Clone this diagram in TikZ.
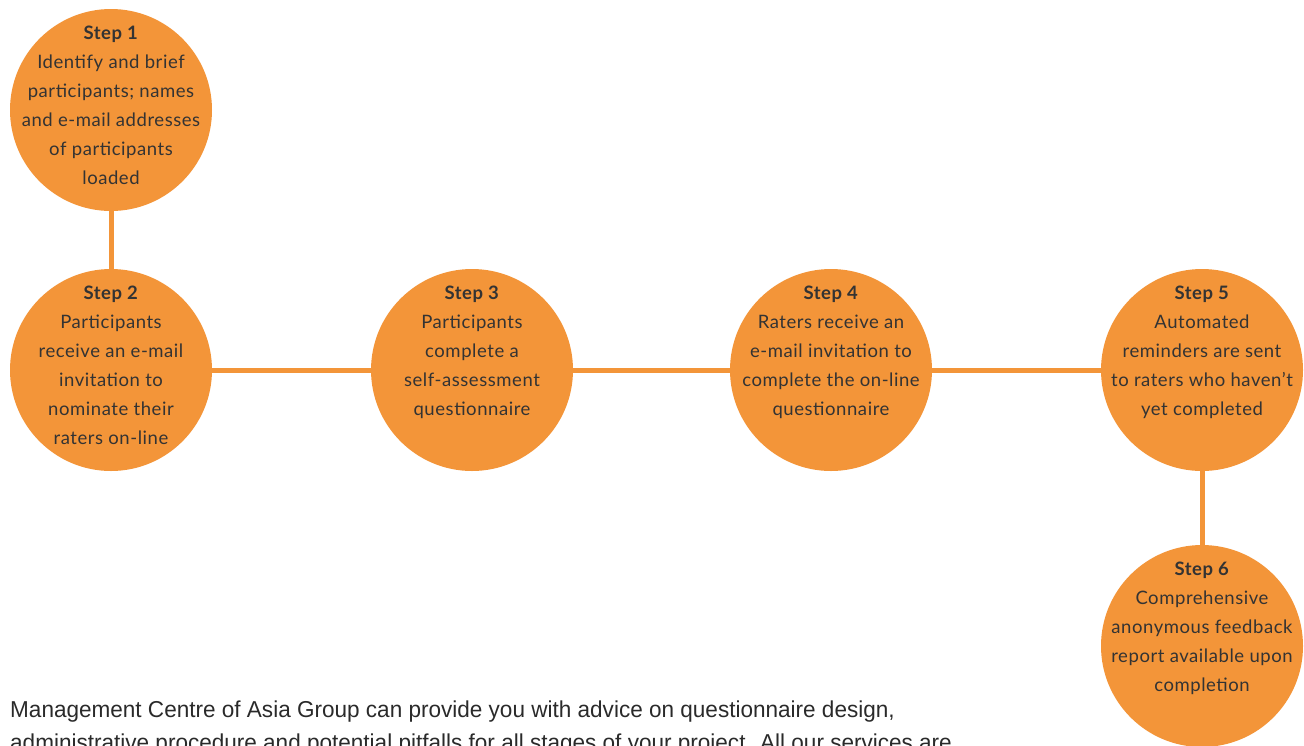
\documentclass[tikz,border=0pt]{standalone}
\usepackage{fontspec}
\setmainfont{Lato}
\newfontfamily\stepfont[LetterSpace=3]{Lato}
\newfontfamily\narrowfont[FakeStretch=0.98]{Liberation Sans}
\definecolor{stepor}{HTML}{F39539}
\definecolor{steptx}{HTML}{333333}
\definecolor{bodytx}{HTML}{2A2A2A}
\tikzset{
  stepcirc/.style={circle, fill=stepor, draw=none, minimum size=202pt, inner sep=0pt},
  steptext/.style={anchor=north, inner sep=0pt, align=center, text=steptx,
    font=\stepfont\fontsize{18.5}{29}\selectfont},
  link/.style={draw=stepor, line width=5pt},
  bodytext/.style={anchor=base west, inner sep=0pt, text=bodytx,
    font=\narrowfont\fontsize{23}{33}\selectfont},
}
\newcommand{\stephead}[1]{\textbf{Step #1}}
\begin{document}
\begin{tikzpicture}[x=1pt,y=-1pt]
\useasboundingbox (0,0) rectangle (1304,745);
\clip (0,0) rectangle (1304,745);
\node[stepcirc] (s1) at (111,110) {};
\node[stepcirc] (s2) at (111,370) {};
\node[stepcirc] (s3) at (472,370) {};
\node[stepcirc] (s4) at (831,370) {};
\node[stepcirc] (s5) at (1202,370) {};
\node[stepcirc] (s6) at (1202,646) {};
\draw[link] (s1) -- (s2);
\draw[link] (s2) -- (s3);
\draw[link] (s3) -- (s4);
\draw[link] (s4) -- (s5);
\draw[link] (s5) -- (s6);
\node[steptext] (t1) at ([yshift=84pt]s1.center) {\stephead{1}\\Identify and brief\\participants; names\\and e-mail addresses\\of participants\\loaded};
\node[steptext] (t2) at ([yshift=84pt]s2.center) {\stephead{2}\\Participants\\receive an e-mail\\invitation to\\nominate their\\raters on-line};
\node[steptext] (t3) at ([yshift=84pt]s3.center) {\stephead{3}\\Participants\\complete a\\self-assessment\\questionnaire};
\node[steptext] (t4) at ([yshift=84pt]s4.center) {\stephead{4}\\Raters receive an\\e-mail invitation to\\complete the on-line\\questionnaire};
\node[steptext] (t5) at ([yshift=84pt]s5.center) {\stephead{5}\\Automated\\reminders are sent\\to raters who haven’t\\yet completed};
\node[steptext] (t6) at ([yshift=84pt]s6.center) {\stephead{6}\\Comprehensive\\anonymous feedback\\report available upon\\completion};
\node[bodytext] (b1) at (10,717) {Management Centre of Asia Group can provide you with advice on questionnaire design,};
\node[bodytext] (b2) at (10,750) {administrative procedure and potential pitfalls for all stages of your project. All our services are};
\end{tikzpicture}
\end{document}
